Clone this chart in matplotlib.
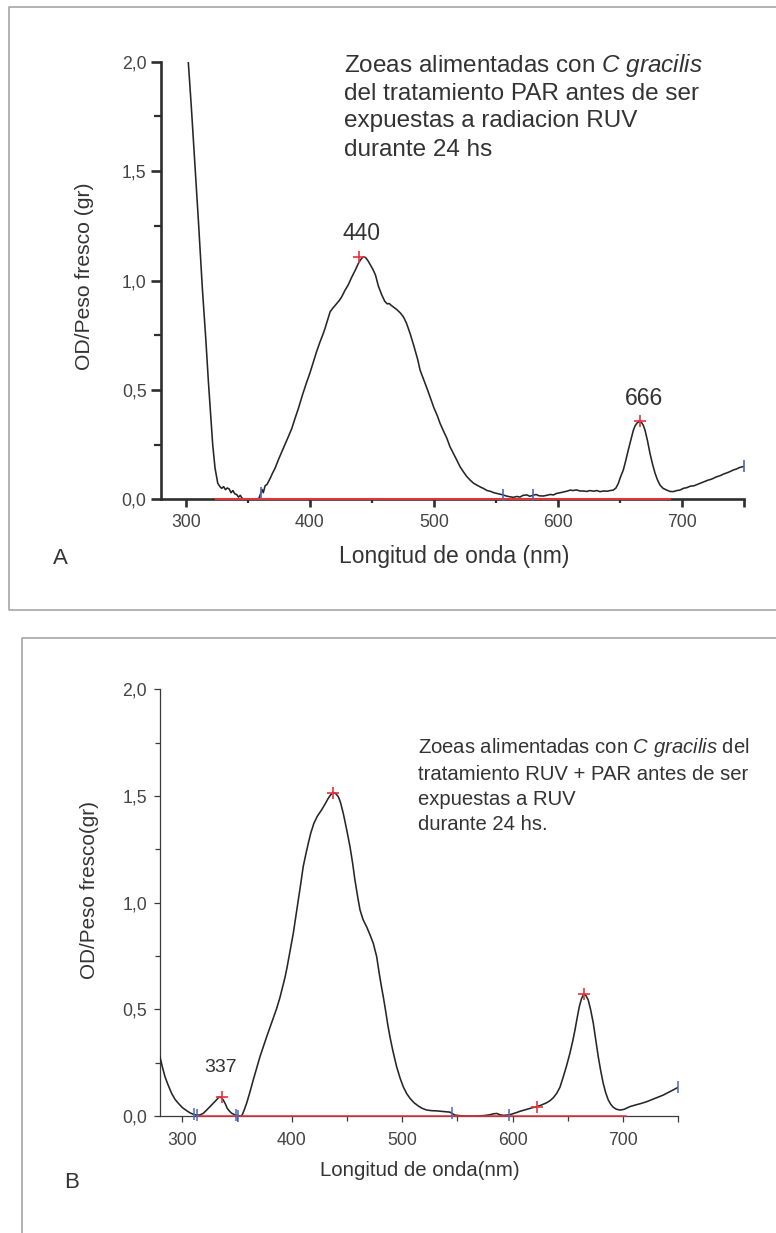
import matplotlib
matplotlib.use("Agg")
import matplotlib.pyplot as plt
from matplotlib.ticker import MultipleLocator, FixedLocator, FuncFormatter
from matplotlib.lines import Line2D

# ---------------- Panel A: zoeas fed C. gracilis from PAR treatment ----------------
wl_a = [302.0, 304.5, 306.9, 310.2, 313.4, 316.1, 318.2, 320.1, 321.7, 323.6,
        325.8, 327.5, 329.0, 330.5, 332.0, 333.5, 335.0, 336.5, 338.0, 339.5,
        341.0, 342.5, 344.0, 345.5, 348.0, 352.0, 356.0, 359.0, 360.6, 361.5,
        362.5, 364.0, 365.5, 368.0, 370.0, 372.0, 375.0, 378.7, 381.0, 383.0,
        385.5, 388.0, 390.8, 394.0, 397.6, 400.0, 402.9, 405.5, 408.3, 410.5,
        412.3, 414.5, 416.4, 418.5, 421.8, 424.0, 426.0, 428.5, 431.0, 433.9,
        436.5, 439.2, 441.0, 443.0, 445.0, 447.0, 449.0, 451.0, 453.0, 455.3,
        458.0, 460.5, 462.5, 464.0, 466.0, 467.4, 470.0, 473.0, 475.5, 478.0,
        480.9, 484.0, 487.0, 489.0, 492.0, 495.0, 497.0, 500.0, 503.0, 505.1,
        508.0, 510.5, 513.1, 516.0, 518.5, 521.2, 524.0, 526.5, 529.3, 532.0,
        535.0, 538.0, 540.0, 543.0, 546.0, 548.5, 550.8, 553.0, 556.0, 558.5,
        561.0, 564.2, 567.0, 569.5, 572.0, 575.0, 577.5, 580.0, 582.5, 585.0,
        588.4, 591.0, 594.0, 596.5, 599.2, 602.0, 605.0, 608.0, 610.0, 612.5,
        615.0, 618.0, 620.6, 623.5, 626.0, 629.0, 631.5, 634.1, 637.0, 640.0,
        642.2, 644.8, 647.0, 648.9, 650.5, 652.9, 655.0, 656.9, 659.0, 661.0,
        662.5, 664.2, 666.0, 667.5, 669.0, 670.4, 672.5, 674.4, 676.5, 678.5,
        680.5, 682.5, 685.0, 687.9, 690.5, 693.2, 696.0, 698.5, 701.3, 704.0,
        707.0, 710.0, 712.5, 714.8, 718.0, 721.0, 724.0, 726.0, 728.2, 731.0,
        734.0, 737.0, 739.5, 741.6, 744.0, 746.5, 749.2, 750.0]
od_a = [2.000, 1.790, 1.570, 1.270, 0.960, 0.735, 0.540, 0.385, 0.250, 0.142,
        0.073, 0.058, 0.050, 0.058, 0.044, 0.052, 0.047, 0.030, 0.040, 0.025,
        0.022, 0.010, 0.018, 0.004, 0.000, 0.002, 0.000, 0.004, 0.030, 0.045,
        0.030, 0.062, 0.068, 0.095, 0.120, 0.142, 0.185, 0.233, 0.262, 0.290,
        0.324, 0.368, 0.415, 0.475, 0.537, 0.575, 0.628, 0.675, 0.720, 0.752,
        0.781, 0.822, 0.857, 0.873, 0.895, 0.910, 0.928, 0.956, 0.980, 1.016,
        1.045, 1.078, 1.095, 1.108, 1.105, 1.090, 1.070, 1.050, 1.025, 0.975,
        0.935, 0.905, 0.893, 0.895, 0.885, 0.879, 0.868, 0.852, 0.834, 0.805,
        0.758, 0.700, 0.640, 0.590, 0.545, 0.500, 0.468, 0.420, 0.380, 0.347,
        0.310, 0.280, 0.240, 0.208, 0.180, 0.149, 0.125, 0.105, 0.088, 0.074,
        0.064, 0.055, 0.050, 0.040, 0.036, 0.030, 0.027, 0.024, 0.020, 0.015,
        0.012, 0.009, 0.013, 0.010, 0.018, 0.020, 0.014, 0.018, 0.022, 0.016,
        0.015, 0.018, 0.022, 0.020, 0.027, 0.030, 0.034, 0.038, 0.042, 0.040,
        0.043, 0.038, 0.038, 0.036, 0.040, 0.037, 0.040, 0.035, 0.038, 0.037,
        0.040, 0.042, 0.052, 0.073, 0.100, 0.134, 0.180, 0.225, 0.272, 0.316,
        0.337, 0.350, 0.356, 0.352, 0.338, 0.316, 0.265, 0.210, 0.160, 0.119,
        0.088, 0.065, 0.050, 0.042, 0.036, 0.035, 0.040, 0.042, 0.050, 0.053,
        0.060, 0.062, 0.068, 0.073, 0.080, 0.087, 0.092, 0.097, 0.103, 0.108,
        0.116, 0.122, 0.128, 0.134, 0.138, 0.145, 0.149, 0.150]
peaks_a_nm = [440, 666]
peaks_a_od = [1.108, 0.356]
peak_labels_a = ["440", "666"]
anchors_a_nm = [360.6, 556.0, 580.0, 750.0]
anchors_a_od = [0.030, 0.020, 0.018, 0.150]
baseline_a = [324.4, 690.6]
note_a = ["Zoeas alimentadas con $C\\ gracilis$",
          "del tratamiento PAR antes de ser",
          "expuestas a radiacion RUV",
          "durante 24 hs"]

# ---------------- Panel B: zoeas fed C. gracilis from RUV + PAR treatment ----------------
wl_b = [280.3, 282.5, 284.9, 287.5, 290.9, 294.0, 296.9, 300.5, 304.5, 307.5,
        310.5, 313.5, 316.6, 319.5, 322.7, 325.5, 328.7, 331.5, 334.1, 336.0,
        337.7, 339.5, 341.3, 343.5, 345.3, 348.0, 350.0, 352.0, 354.4, 356.5,
        358.9, 361.5, 364.9, 368.0, 371.0, 374.0, 377.1, 380.0, 383.0, 386.0,
        389.1, 391.5, 393.7, 395.5, 398.0, 401.2, 403.5, 405.7, 408.0, 410.2,
        412.5, 414.8, 417.0, 419.9, 423.0, 426.9, 430.0, 432.9, 435.0, 437.2,
        439.5, 442.0, 444.0, 446.5, 449.5, 452.6, 455.0, 457.1, 459.5, 461.7,
        464.5, 467.7, 470.7, 473.7, 476.8, 479.1, 481.0, 482.8, 485.0, 486.8,
        488.8, 491.5, 494.9, 498.0, 500.9, 504.0, 507.0, 510.5, 514.5, 518.0,
        522.1, 526.5, 531.2, 537.0, 543.3, 545.0, 548.0, 555.0, 565.0, 572.0,
        576.0, 579.5, 582.5, 585.6, 588.5, 591.6, 594.5, 597.0, 600.0, 603.5,
        606.7, 610.0, 613.0, 615.8, 618.8, 621.8, 625.0, 627.8, 630.9, 634.0,
        637.0, 640.0, 643.0, 646.0, 649.0, 652.0, 654.5, 656.6, 658.5, 660.5,
        662.5, 664.7, 666.5, 668.6, 670.8, 673.2, 675.5, 677.7, 680.0, 682.2,
        684.5, 686.8, 689.0, 691.3, 694.0, 697.4, 701.0, 706.4, 711.0, 716.0,
        721.6, 726.5, 731.5, 736.6, 741.0, 745.5, 750.0]
od_b = [0.278, 0.230, 0.184, 0.148, 0.106, 0.078, 0.060, 0.040, 0.025, 0.015,
        0.008, 0.004, 0.005, 0.012, 0.028, 0.043, 0.060, 0.075, 0.090, 0.086,
        0.075, 0.058, 0.036, 0.022, 0.013, 0.006, 0.003, 0.001, 0.000, 0.025,
        0.060, 0.105, 0.169, 0.225, 0.278, 0.325, 0.372, 0.415, 0.458, 0.502,
        0.555, 0.605, 0.650, 0.695, 0.765, 0.856, 0.935, 1.013, 1.090, 1.169,
        1.225, 1.278, 1.325, 1.372, 1.405, 1.435, 1.462, 1.489, 1.505, 1.516,
        1.512, 1.497, 1.470, 1.419, 1.345, 1.263, 1.185, 1.106, 1.030, 0.966,
        0.920, 0.887, 0.850, 0.810, 0.747, 0.669, 0.610, 0.559, 0.490, 0.430,
        0.372, 0.305, 0.231, 0.178, 0.137, 0.105, 0.083, 0.063, 0.047, 0.036,
        0.028, 0.025, 0.024, 0.021, 0.018, 0.012, 0.004, 0.000, 0.000, 0.001,
        0.003, 0.006, 0.010, 0.012, 0.006, 0.003, 0.004, 0.005, 0.010, 0.016,
        0.022, 0.027, 0.032, 0.036, 0.040, 0.044, 0.049, 0.055, 0.062, 0.072,
        0.086, 0.106, 0.135, 0.184, 0.236, 0.294, 0.350, 0.403, 0.458, 0.512,
        0.550, 0.572, 0.565, 0.544, 0.498, 0.435, 0.355, 0.278, 0.210, 0.153,
        0.108, 0.075, 0.055, 0.041, 0.032, 0.028, 0.031, 0.044, 0.051, 0.058,
        0.067, 0.077, 0.087, 0.098, 0.110, 0.122, 0.134]
peaks_b_nm = [337, 437, 622, 665]
peaks_b_od = [0.090, 1.516, 0.044, 0.572]
peak_label_b = "337"
anchors_b_nm = [311.5, 313.5, 349.5, 351.5, 545.0, 597.0, 750.0]
anchors_b_od = [0.008, 0.004, 0.004, 0.002, 0.012, 0.005, 0.134]
baseline_b = [313.6, 703.0]
note_b = ["Zoeas alimentadas con $C\\ gracilis$ del",
          "tratamiento RUV + PAR antes de ser",
          "expuestas a RUV",
          "durante 24 hs."]

x_label_a = "Longitud de onda (nm)"
y_label_a = "OD/Peso fresco (gr)"
x_label_b = "Longitud de onda(nm)"
y_label_b = "OD/Peso fresco(gr)"
x_ticks = [300, 400, 500, 600, 700, 750]

# ---------------- figure ----------------
plt.rcParams['font.family'] = ['Liberation Sans', 'DejaVu Sans']
plt.rcParams['mathtext.fontset'] = 'custom'
plt.rcParams['mathtext.rm'] = 'Liberation Sans'
plt.rcParams['mathtext.it'] = 'Liberation Sans:italic'

W, H = 776, 1233
fig = plt.figure(figsize=(W / 100, H / 100), dpi=100)
fig.patch.set_facecolor('white')


def fx(x):
    return x / W


def fy(y):
    return 1 - y / H


def box(left, top, right, bottom):
    return [fx(left), fy(bottom), (right - left) / W, (bottom - top) / H]


TXT = '#333333'
CURVE = '#262626'
RED = '#e5333b'
BLUE = '#4a68c0'


def comma(v, _):
    if abs(v - 750) < 1e-6:
        return ''
    if v >= 100:
        return f"{v:.0f}"
    return f"{v:.1f}".replace('.', ',')


def style_axes(ax, spine_lw, color, maj_x, min_x, maj_y, min_y, tw, mtw, xpad, ypad):
    for s in ('top', 'right'):
        ax.spines[s].set_visible(False)
    for s in ('left', 'bottom'):
        ax.spines[s].set_linewidth(spine_lw)
        ax.spines[s].set_color(color)
    ax.set_xlim(280, 750)
    ax.set_ylim(0, 2.0)
    ax.xaxis.set_major_locator(FixedLocator(x_ticks))
    ax.xaxis.set_minor_locator(FixedLocator([350, 450, 550, 650]))
    ax.yaxis.set_major_locator(MultipleLocator(0.5))
    ax.yaxis.set_minor_locator(MultipleLocator(0.25))
    ax.xaxis.set_major_formatter(FuncFormatter(comma))
    ax.yaxis.set_major_formatter(FuncFormatter(comma))
    ax.tick_params(which='both', direction='out', color=color,
                   labelsize=12.7, labelcolor='#444444')
    ax.tick_params(axis='x', which='major', length=maj_x, width=tw, pad=xpad)
    ax.tick_params(axis='x', which='minor', length=min_x, width=mtw)
    ax.tick_params(axis='y', which='major', length=maj_y, width=tw, pad=ypad)
    ax.tick_params(axis='y', which='minor', length=min_y, width=mtw)
    ax.patch.set_alpha(0)


# ---- panel A ----
axA = fig.add_axes(box(161, 61.7, 743.7, 499.3))
style_axes(axA, 1.9, '#2e2e2e', 5.8, 3.0, 7.0, 5.0, 1.9, 1.6, 5.0, 3.4)
axA.plot(wl_a, od_a, color=CURVE, lw=1.15, solid_joinstyle='round', zorder=3)
axA.plot(baseline_a, [0, 0], color=RED, lw=1.5, clip_on=False, zorder=6)
axA.plot(anchors_a_nm, anchors_a_od, '|', color=BLUE, ms=9, mew=1.2,
         clip_on=False, zorder=7)
axA.plot(peaks_a_nm, peaks_a_od, '+', color=RED, ms=8, mew=1.2,
         clip_on=False, zorder=7)
for (px, py, lab), dx in zip(zip(peaks_a_nm, peaks_a_od, peak_labels_a), [1.5, 2.9]):
    axA.annotate(lab, xy=(px, py), xytext=(dx, 16.6), textcoords='offset points',
                 ha='center', va='center', fontsize=16.5, color=TXT)

for line, yb in zip(note_a, [72, 100, 127, 155.5]):
    fig.text(fx(343.5), fy(yb), line, ha='left', va='baseline',
             fontsize=17.5, color=TXT)

fig.text(fx(454), fy(556.4), x_label_a, ha='center', va='center',
         fontsize=16.5, color=TXT)
fig.text(fx(84.3), fy(276), y_label_a, rotation=90, ha='center', va='center',
         fontsize=15.2, color=TXT)
fig.text(fx(60.5), fy(558.4), "A", ha='center', va='center', fontsize=16, color=TXT)

# ---- panel B ----
axB = fig.add_axes(box(159.6, 689.3, 678, 1116))
style_axes(axB, 0.9, '#3a3a3a', 4.0, 3.5, 4.0, 3.5, 0.9, 0.9, 7.6, 5.0)
axB.plot(wl_b, od_b, color=CURVE, lw=1.15, solid_joinstyle='round', zorder=3)
axB.plot(baseline_b, [0, 0], color=RED, lw=1.1, clip_on=False, zorder=6)
axB.plot(anchors_b_nm, anchors_b_od, '|', color=BLUE, ms=8, mew=1.1,
         clip_on=False, zorder=7)
axB.plot(peaks_b_nm, peaks_b_od, '+', color=RED, ms=8, mew=1.2,
         clip_on=False, zorder=7)
axB.annotate(peak_label_b, xy=(peaks_b_nm[0], peaks_b_od[0]), xytext=(-1.5, 20.9),
             textcoords='offset points', ha='center', va='center',
             fontsize=14, color=TXT)

for line, yb in zip(note_b, [753.4, 779.5, 805.3, 830.2]):
    fig.text(fx(418), fy(yb), line, ha='left', va='baseline',
             fontsize=14.6, color=TXT)

fig.text(fx(419.7), fy(1170.4), x_label_b, ha='center', va='center',
         fontsize=14.7, color=TXT)
fig.text(fx(89.2), fy(890), y_label_b, rotation=90, ha='center', va='center',
         fontsize=14.9, color=TXT)
fig.text(fx(71.9), fy(1182), "B", ha='center', va='center', fontsize=16, color=TXT)

# ---- panel frames ----
FRAME = '#a6a6a6'
fig.add_artist(Line2D([fx(776), fx(9), fx(9), fx(776)],
                      [fy(7), fy(7), fy(610), fy(610)],
                      color=FRAME, lw=1.2))
fig.add_artist(Line2D([fx(776), fx(22), fx(22)],
                      [fy(637.6), fy(637.6), fy(1233)],
                      color=FRAME, lw=1.2))

fig.savefig("out.png", dpi=100, facecolor='white')
